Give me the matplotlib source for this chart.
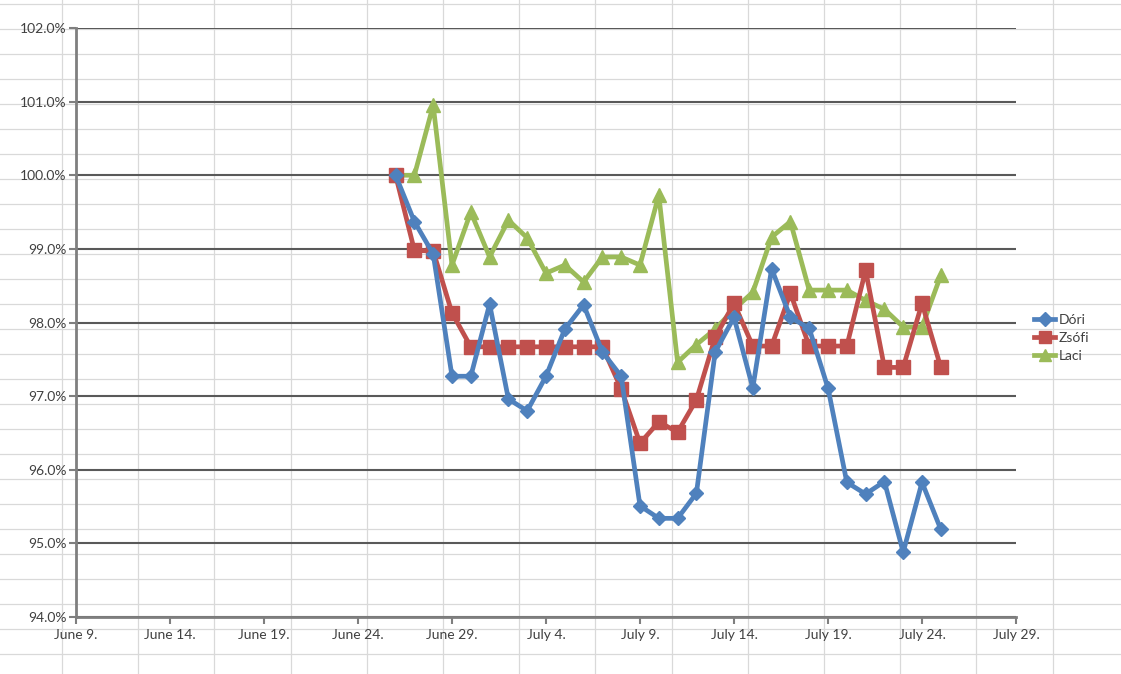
import numpy as np
import pandas as pd
import matplotlib
matplotlib.use('Agg')
import matplotlib.pyplot as plt
from matplotlib.lines import Line2D

plt.rcParams['font.family'] = ['Lato', 'DejaVu Sans']

dates = pd.date_range('2013-06-26', '2013-07-25', freq='D')

dori = [100.0, 99.37, 98.93, 97.27, 97.27, 98.25, 96.96, 96.80, 97.27, 97.91,
        98.24, 97.60, 97.27, 95.51, 95.34, 95.34, 95.68, 97.60, 98.07, 97.11,
        98.73, 98.07, 97.92, 97.11, 95.83, 95.67, 95.84, 94.88, 95.83, 95.19]
zsofi = [100.0, 98.98, 98.97, 98.13, 97.67, 97.67, 97.67, 97.67, 97.67, 97.67,
         97.67, 97.67, 97.10, 96.36, 96.65, 96.51, 96.95, 97.80, 98.26, 97.68,
         97.68, 98.40, 97.68, 97.68, 97.68, 98.71, 97.39, 97.39, 98.26, 97.39]
laci = [100.0, 100.0, 100.95, 98.78, 99.50, 98.89, 99.39, 99.15, 98.67, 98.78,
        98.55, 98.89, 98.89, 98.78, 99.73, 97.46, 97.70, 97.91, 98.18, 98.41,
        99.16, 99.37, 98.44, 98.44, 98.44, 98.30, 98.18, 97.94, 97.94, 98.64]

tick_dates = pd.date_range('2013-06-09', '2013-07-29', freq='5D')
tick_labels = ['June 9.', 'June 14.', 'June 19.', 'June 24.', 'June 29.',
               'July 4.', 'July 9.', 'July 14.', 'July 19.', 'July 24.', 'July 29.']

fig = plt.figure(figsize=(11.21, 6.74), dpi=100)
fig.patch.set_facecolor('white')

# spreadsheet cell grid behind the chart
W, H = 1121, 674
for x in np.arange(62, W, 76.2):
    fig.add_artist(Line2D([x / W, x / W], [0, 1], color='#d9d9d9', lw=0.9, zorder=0))
for y in np.arange(4, H, 25):
    fig.add_artist(Line2D([0, 1], [1 - y / H, 1 - y / H], color='#d9d9d9', lw=0.9, zorder=0))

ax = fig.add_axes([76 / W, 57 / H, 940 / W, 589 / H])
ax.patch.set_visible(False)

ax.plot(dates, dori, color='#4f81bd', lw=3.4, marker='D', ms=7.5, label='Dóri', zorder=4)
ax.plot(dates, zsofi, color='#c0504d', lw=3.4, marker='s', ms=9.5, label='Zsófi', zorder=3)
ax.plot(dates, laci, color='#9bbb59', lw=3.4, marker='^', ms=10, label='Laci', zorder=2)

ax.set_ylim(94, 102)
ax.set_yticks(np.arange(94, 102.1, 1))
ax.set_yticklabels([f'{v:.1f}%' for v in np.arange(94, 102.1, 1)])
ax.set_xlim(tick_dates[0], tick_dates[-1])
ax.set_xticks(tick_dates)
ax.set_xticklabels(tick_labels)

ax.grid(axis='y', color='#595959', lw=1.5, zorder=1)
ax.set_axisbelow(True)
for s in ['top', 'right']:
    ax.spines[s].set_visible(False)
for s in ['left', 'bottom']:
    ax.spines[s].set_color('#7f7f7f')
    ax.spines[s].set_linewidth(2)
ax.tick_params(axis='both', colors='#7f7f7f', labelcolor='#404040', labelsize=10, width=1.5, length=5)
ax.tick_params(axis='y', pad=2)

leg = ax.legend(loc='center left', bbox_to_anchor=(1.012, 0.474), frameon=False,
                fontsize=10, handlelength=1.5, handletextpad=0.25, labelspacing=0.45,
                markerscale=0.9, borderpad=0)
for t in leg.get_texts():
    t.set_color('#404040')

fig.savefig('out.png', dpi=100, facecolor='white')
